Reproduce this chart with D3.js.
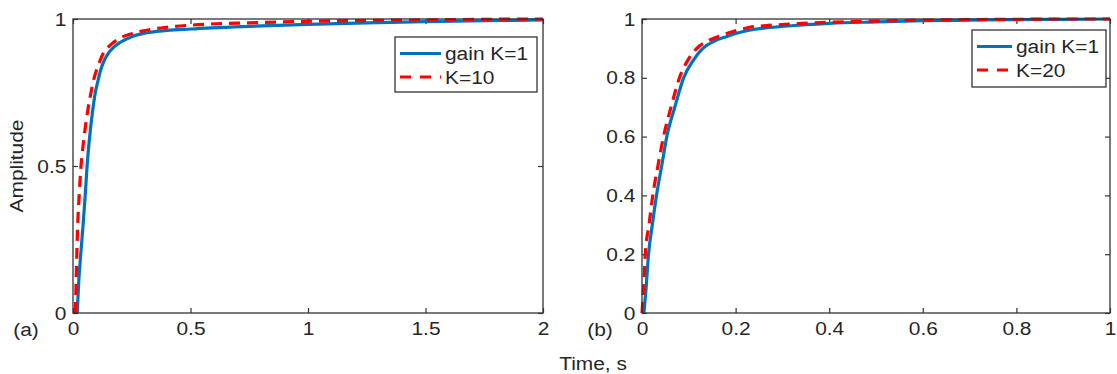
<!DOCTYPE html>
<html lang="en">
<head>
    <meta charset="UTF-8">
    <title>Step response</title>
    <style>
        body { margin: 0; background: #fff; }
        text { font-family: "Liberation Sans", Arial, sans-serif; fill: #262626; }
    </style>
</head>
<body>
    <div class="container"></div>
    <script src="https://cdn.jsdelivr.net/npm/d3@7/dist/d3.min.js"></script>
    <script>
        // Data
        // panel (a): gain K=1 vs K=10, t in 0..2 s
        const timeA1 = [0.018, 0.024, 0.033, 0.043, 0.052, 0.06, 0.071, 0.084, 0.095, 0.105, 0.116, 0.128, 0.15, 0.175, 0.2, 0.25, 0.3, 0.4, 0.5, 0.75, 1, 1.25, 1.5, 1.75, 2]
        const ampA1  = [0, 0.1, 0.2, 0.3, 0.4, 0.5, 0.6, 0.69, 0.75, 0.785, 0.822, 0.85, 0.883, 0.905, 0.92, 0.94, 0.951, 0.961, 0.966, 0.975, 0.982, 0.987, 0.991, 0.994, 0.997]
        const timeA10 = [0.01, 0.014, 0.02, 0.027, 0.034, 0.043, 0.053, 0.063, 0.073, 0.09, 0.102, 0.13, 0.16, 0.2, 0.25, 0.3, 0.4, 0.5, 0.75, 1, 1.25, 1.5, 1.75, 2]
        const ampA10  = [0, 0.13, 0.3, 0.41, 0.5, 0.57, 0.635, 0.69, 0.735, 0.8, 0.83, 0.885, 0.912, 0.935, 0.95, 0.96, 0.972, 0.979, 0.987, 0.992, 0.995, 0.997, 0.999, 1]

        // panel (b): gain K=1 vs K=20, t in 0..1 s
        const timeB1 = [0.004, 0.008, 0.014, 0.022, 0.031, 0.042, 0.053, 0.07, 0.089, 0.11, 0.13, 0.155, 0.18, 0.21, 0.245, 0.28, 0.32, 0.4, 0.5, 0.6, 0.7, 0.8, 0.9, 1]
        const ampB1  = [0, 0.07, 0.2, 0.3, 0.4, 0.5, 0.6, 0.7, 0.8, 0.86, 0.9, 0.925, 0.94, 0.955, 0.966, 0.972, 0.977, 0.985, 0.99, 0.994, 0.996, 0.998, 0.999, 1]
        const timeB20 = [0, 0.002, 0.004, 0.007, 0.015, 0.023, 0.034, 0.046, 0.062, 0.08, 0.098, 0.117, 0.14, 0.167, 0.2, 0.23, 0.27, 0.32, 0.4, 0.5, 0.6, 0.7, 0.8, 0.9, 1]
        const ampB20  = [0, 0.05, 0.1, 0.2, 0.3, 0.4, 0.5, 0.6, 0.7, 0.8, 0.86, 0.9, 0.925, 0.943, 0.96, 0.972, 0.978, 0.983, 0.989, 0.993, 0.996, 0.998, 0.999, 1, 1]

        const ticksXA = [0, 0.5, 1, 1.5, 2]
        const ticksYA = [0, 0.5, 1]
        const ticksXB = [0, 0.2, 0.4, 0.6, 0.8, 1]
        const ticksYB = [0, 0.2, 0.4, 0.6, 0.8, 1]
        const legendA = ["gain K=1", "K=10"]
        const legendB = ["gain K=1", "K=20"]

        // Setup config
        const width = 1117
        const height = 374
        const plotTop = 19, plotBottom = 313
        const fontSize = 19
        const stretch = 1.1   // glyphs in the picture are a bit wide
        const blue = "#0072bd"
        const red = "#ff0000"
        const axisColor = "#333"
        const fmt = d3.format("~g")

        const svg = d3.select('.container')
                    .append("svg")
                    .attr("width", width)
                    .attr("height", height)

        const zip = (t, a) => t.map((d, i) => ({t: d, a: a[i]}))

        function panel(cfg) {
            const x = d3.scaleLinear().domain(cfg.xDomain).range([cfg.left, cfg.right])
            const y = d3.scaleLinear().domain([0, 1]).range([plotBottom, plotTop])
            const g = svg.append("g").attr("class", "panel")

            // inner ticks on all four sides
            const axes = [
                [d3.axisBottom(x).tickValues(cfg.xTicks).tickFormat(fmt).tickSize(-5).tickPadding(9), `translate(0,${plotBottom})`],
                [d3.axisTop(x).tickValues(cfg.xTicks).tickSize(-5).tickFormat(() => ""), `translate(0,${plotTop})`],
                [d3.axisLeft(y).tickValues(cfg.yTicks).tickFormat(fmt).tickSize(-5).tickPadding(6), `translate(${cfg.left},0)`],
                [d3.axisRight(y).tickValues(cfg.yTicks).tickSize(-5).tickFormat(() => ""), `translate(${cfg.right},0)`]
            ]
            axes.forEach(([ax, tr]) => {
                const a = g.append("g").attr("transform", tr).call(ax.tickSizeOuter(0))
                a.select(".domain").remove()
                a.selectAll(".tick line").attr("stroke", axisColor).attr("stroke-width", 1.2)
                a.selectAll("text")
                    .attr("font-family", "Liberation Sans, Arial, sans-serif")
                    .attr("font-size", fontSize)
                    .attr("fill", "#262626")
                    .attr("transform", `scale(${stretch},1)`)
            })

            // curves
            const line = d3.line().x(d => x(d.t)).y(d => y(d.a)).curve(d3.curveMonotoneX)
            g.append("path").datum(zip(cfg.t1, cfg.a1))
                .attr("d", line).attr("fill", "none")
                .attr("stroke", blue).attr("stroke-width", 3.2)
            g.append("path").datum(zip(cfg.t2, cfg.a2))
                .attr("d", line).attr("fill", "none")
                .attr("stroke", red).attr("stroke-width", 3.2)
                .attr("stroke-dasharray", "11,7")

            // box
            g.append("rect")
                .attr("x", cfg.left).attr("y", plotTop)
                .attr("width", cfg.right - cfg.left).attr("height", plotBottom - plotTop)
                .attr("fill", "none").attr("stroke", axisColor).attr("stroke-width", 1.3)

            // legend
            const lg = g.append("g").attr("transform", `translate(${cfg.legend.x},${cfg.legend.y})`)
            lg.append("rect")
                .attr("width", cfg.legend.w).attr("height", cfg.legend.h)
                .attr("fill", "#fff").attr("stroke", axisColor).attr("stroke-width", 1.3)
            cfg.legend.labels.forEach((lab, i) => {
                const ly = 16.5 + i * 23.5
                lg.append("line")
                    .attr("x1", 5).attr("x2", 5 + cfg.legend.len)
                    .attr("y1", ly).attr("y2", ly)
                    .attr("stroke", i === 0 ? blue : red).attr("stroke-width", 3.2)
                    .attr("stroke-dasharray", i === 0 ? null : "11,9")
                lg.append("text")
                    .attr("transform", `translate(${cfg.legend.len + 9},${ly + 6.5}) scale(${stretch},1)`)
                    .attr("font-size", fontSize)
                    .text(lab)
            })

            // panel tag
            svg.append("text")
                .attr("transform", `translate(${cfg.tagX},336) scale(${stretch},1)`)
                .attr("text-anchor", "middle")
                .attr("font-size", fontSize)
                .text(cfg.tag)
        }

        panel({
            xDomain: [0, 2], left: 73, right: 543,
            xTicks: ticksXA, yTicks: ticksYA,
            t1: timeA1, a1: ampA1, t2: timeA10, a2: ampA10,
            legend: {x: 395, y: 37, w: 142, h: 55, len: 41, labels: legendA},
            tag: "(a)", tagX: 26
        })
        panel({
            xDomain: [0, 1], left: 642, right: 1110,
            xTicks: ticksXB, yTicks: ticksYB,
            t1: timeB1, a1: ampB1, t2: timeB20, a2: ampB20,
            legend: {x: 972, y: 30, w: 134, h: 57, len: 35, labels: legendB},
            tag: "(b)", tagX: 600
        })

        // shared labels
        svg.append("text")
            .attr("transform", `translate(23,166) rotate(-90) scale(${stretch},1)`)
            .attr("text-anchor", "middle")
            .attr("font-size", fontSize)
            .text("Amplitude")
        svg.append("text")
            .attr("transform", `translate(593,370) scale(${stretch},1)`)
            .attr("text-anchor", "middle")
            .attr("font-size", fontSize)
            .text("Time, s")
    </script>
</body>
</html>
